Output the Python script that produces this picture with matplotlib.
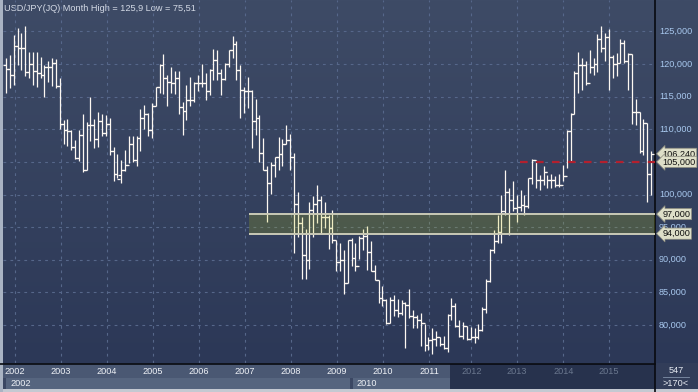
import numpy as np
import matplotlib
matplotlib.use("Agg")
import matplotlib.pyplot as plt
from matplotlib.patches import Rectangle
from matplotlib.transforms import blended_transform_factory

plt.rcParams['font.family'] = ['Liberation Sans', 'DejaVu Sans']
plt.rcParams['lines.scale_dashes'] = False

# ---------------- data (monthly OHLC) ----------------
highs = [
    120.9, 121.4, 124.4, 125.6, 124.7, 125.8, 121.9, 121.9, 121.9, 121.1, 119.9, 120.4, 120.9, 120.8, 117.9,
    111.4, 111.6, 109.9, 108.4, 109.9, 112.3, 111.1, 115.0, 111.6, 112.7, 112.3, 112.2, 111.7, 107.3, 106.2,
    105.3, 106.8, 108.9, 109.0, 108.9, 113.1, 113.7, 112.5, 114.0, 116.5, 120.0, 121.5, 118.3,
    119.5, 119.0, 119.0, 114.2, 116.8, 118.0, 117.3, 118.3, 120.0, 118.6, 119.2, 122.3, 122.1, 119.2, 120.1,
    122.1, 124.3, 123.6, 119.9, 116.5, 118.0, 116.0, 114.7, 112.2, 108.6, 104.3, 105.0, 105.7, 108.8, 108.5,
    110.7, 109.3, 106.3, 100.4, 96.6, 94.7, 98.9, 99.8, 101.5, 99.8, 98.9, 96.8,
    97.7, 93.1, 92.5, 91.5, 93.1, 93.3, 92.5, 93.6, 94.7, 95.1, 92.8, 89.2, 86.9, 86.0, 83.9,
    84.3, 84.6, 83.9, 83.8, 83.5, 85.5, 82.3, 81.5, 81.8, 80.2, 78.1, 79.5, 79.0, 78.2, 78.3,
    81.7, 84.2, 83.4, 80.8, 80.5, 79.8, 79.7, 79.5, 80.2, 82.7, 87.0, 91.6, 94.6,
    96.9, 100.0, 103.8, 101.0, 102.0, 99.9, 100.7, 99.9, 102.6, 105.4, 105.3, 103.0, 104.3, 103.0, 103.2,
    102.9, 103.1, 104.5, 109.9, 112.5, 118.9, 121.9, 120.9, 120.5, 122.2, 121.0, 124.6, 125.9, 124.7, 125.4,
    121.4, 121.7, 123.8, 123.7, 121.7, 121.5, 114.6, 112.7, 111.6, 110.9, 106.6,
]
lows = [
    115.5, 116.4, 116.8, 119.9, 119.1, 118.2, 117.8, 116.8, 116.5, 117.8, 115.0, 117.3, 116.7, 116.3, 110.1,
    107.8, 107.5, 106.8, 105.5, 105.1, 103.4, 103.8, 108.2, 107.1, 107.3, 109.0, 108.9, 106.0, 102.1, 102.6,
    101.7, 103.6, 104.8, 105.0, 104.3, 106.6, 110.1, 108.9, 108.7, 113.5, 115.5, 115.4, 113.5,
    115.6, 115.4, 112.4, 109.1, 111.4, 113.5, 114.2, 115.8, 116.5, 114.5, 115.3, 117.6, 117.6, 115.2, 117.6,
    119.6, 120.9, 117.6, 111.7, 112.5, 113.2, 107.2, 109.1, 105.0, 103.7, 95.8, 100.1, 102.7, 103.7, 104.3,
    107.7, 103.7, 91.0, 93.5, 87.1, 87.1, 88.5, 93.5, 95.7, 94.0, 94.8, 91.7,
    92.5, 88.2, 88.2, 84.8, 86.4, 89.0, 88.2, 90.1, 91.5, 88.4, 88.2, 86.9, 83.4, 82.9, 80.2,
    80.3, 81.3, 81.2, 81.5, 76.4, 81.0, 79.5, 79.6, 76.8, 76.0, 76.2, 75.51, 76.7, 76.7, 76.3,
    75.9, 80.8, 79.7, 78.2, 77.8, 77.7, 77.9, 77.2, 77.8, 79.1, 81.8, 86.6, 91.0,
    92.5, 92.5, 96.9, 93.8, 97.4, 95.8, 97.4, 96.9, 97.9, 101.6, 101.0, 100.7, 101.5, 101.0, 101.0,
    101.1, 101.1, 102.0, 104.1, 105.0, 112.3, 115.5, 116.0, 116.8, 118.6, 118.4, 118.8, 121.9, 120.4, 116.0,
    117.8, 118.1, 120.1, 120.1, 116.0, 110.8, 110.7, 106.3, 106.1, 98.9, 99.9,
]
opens = [
    119.9, 119.3, 118.4, 122.8, 122.5, 122.5, 118.8, 120.0, 118.9, 118.6, 118.4, 119.5, 119.6, 120.1, 116.6,
    110.8, 109.9, 109.7, 107.3, 105.6, 109.1, 103.8, 110.7, 110.7, 108.5, 111.3, 109.5, 110.8, 106.7, 103.1,
    103.0, 103.8, 104.5, 107.8, 105.3, 108.7, 111.8, 112.3, 109.9, 113.6, 116.5, 119.9, 117.9,
    117.2, 117.1, 117.8, 113.4, 112.8, 114.5, 114.5, 117.1, 117.1, 117.1, 115.9, 119.1, 120.7, 118.7, 117.7,
    120.0, 122.1, 123.1, 119.1, 116.0, 115.9, 115.9, 111.2, 111.8, 106.4, 103.7, 101.8, 104.5, 105.7, 106.2,
    107.7, 108.3, 105.8, 98.6, 95.7, 90.7, 90.0, 97.6, 98.5, 99.2, 96.6, 96.6,
    94.8, 93.0, 89.7, 90.0, 86.4, 93.0, 90.2, 89.0, 93.4, 93.6, 91.2, 88.3, 86.9, 84.2, 83.8,
    80.3, 83.8, 82.3, 81.8, 83.3, 83.1, 81.3, 81.2, 80.8, 80.3, 76.9, 77.7, 77.9, 78.2, 77.1,
    76.4, 81.5, 82.9, 79.8, 78.3, 79.8, 77.9, 78.2, 78.1, 79.2, 82.5, 86.8, 91.5,
    92.8, 94.3, 97.4, 100.4, 99.1, 97.9, 98.1, 98.4, 98.3, 102.5, 105.3, 102.2, 102.2, 103.5, 102.2,
    102.2, 101.5, 101.4, 102.9, 109.7, 112.3, 118.6, 119.8, 119.9, 117.1, 119.6, 120.0, 123.9, 122.5, 124.1,
    121.1, 120.0, 120.1, 123.2, 120.4, 121.5, 112.7, 112.7, 106.7, 110.9, 103.2,
]
closes = [
    119.3, 118.4, 122.8, 122.5, 122.5, 118.8, 120.0, 118.9, 118.6, 118.4, 119.5, 119.6, 120.1, 116.6, 110.8,
    109.9, 109.7, 107.3, 105.6, 109.1, 103.8, 110.7, 110.7, 108.5, 111.3, 109.5, 110.8, 106.7, 103.1, 102.4,
    103.8, 104.5, 107.8, 105.3, 108.7, 111.8, 112.3, 109.9, 113.6, 116.5, 119.9, 117.9, 117.2,
    117.1, 117.8, 113.4, 112.8, 114.5, 114.5, 117.1, 117.1, 117.1, 115.9, 119.1, 120.7, 118.7, 117.7, 120.0,
    122.1, 123.1, 119.1, 116.0, 115.9, 115.9, 111.2, 111.8, 106.4, 103.7, 101.8, 104.5, 105.7, 106.2, 107.7,
    108.3, 105.8, 98.6, 95.7, 90.7, 90.0, 97.6, 98.5, 99.2, 96.6, 96.6, 94.8,
    93.0, 89.7, 90.0, 86.4, 93.0, 90.2, 89.0, 93.4, 93.6, 91.2, 88.3, 86.9, 84.2, 83.8, 80.3,
    83.8, 82.3, 81.8, 83.3, 83.1, 81.3, 81.2, 80.8, 80.3, 76.9, 77.7, 77.9, 78.2, 77.1, 76.4,
    81.5, 82.9, 79.8, 78.3, 79.8, 77.9, 78.2, 78.1, 79.2, 82.5, 86.8, 91.5, 92.8,
    94.3, 97.4, 100.4, 99.1, 97.9, 98.1, 98.4, 98.3, 102.5, 105.3, 102.2, 102.2, 103.5, 102.2, 102.2,
    101.5, 101.4, 102.9, 109.7, 112.3, 118.6, 119.8, 119.9, 117.1, 119.6, 120.0, 123.9, 122.5, 124.1, 121.1,
    120.0, 120.1, 123.2, 120.4, 121.5, 112.7, 112.7, 106.7, 110.9, 103.2, 106.24,
]

year_labels = ['2002', '2003', '2004', '2005', '2006', '2007', '2008', '2009',
               '2010', '2011', '2012', '2013', '2014', '2015']
year_pos = [2.3, 14.3, 26.3, 38.3, 50.3, 62.2, 74.2, 86.2, 98.2, 110.2, 121.2, 133.1, 145.1, 157.0]
period_labels = ['2002', '2010']
price_ticks = [80, 85, 90, 95, 100, 105, 110, 115, 120, 125]
band_low, band_high = 94.0, 97.0
band_start = 63.4
resistance = 105.0
res_start = 133.8
last_price = 106.24
title = "USD/JPY(JQ) Month High = 125,9 Low = 75,51"
total_bars_label = "547"
visible_label = ">170<"

# ---------------- figure ----------------
W, H = 698, 392
fig = plt.figure(figsize=(W / 100, H / 100), dpi=100)
bg = fig.add_axes([0, 0, 1, 1])
bg.set_xlim(0, W)
bg.set_ylim(H, 0)
bg.axis('off')

# gradient background for plot + price axis
top = np.array([62, 75, 102]) / 255
bot = np.array([44, 56, 87]) / 255
t = np.linspace(0, 1, 256)[:, None, None]
grad = top * (1 - t) + bot * t
bg.imshow(grad, extent=(0, W, 363, 0), origin='upper', aspect='auto', zorder=0)

# bottom panel
bg.add_patch(Rectangle((0, 363), 655, 29, facecolor='#3b4763', edgecolor='none', zorder=1))
bg.add_patch(Rectangle((3, 364), 447, 14, facecolor='#4a5873', edgecolor='none', zorder=1))
bg.add_patch(Rectangle((450, 364), 205, 28, facecolor='#27324d', edgecolor='none', zorder=1))
bg.add_patch(Rectangle((6, 378), 344, 11, facecolor='#56657f', edgecolor='none', zorder=1))
bg.add_patch(Rectangle((353, 378), 97, 11, facecolor='#56657f', edgecolor='none', zorder=1))
bg.add_patch(Rectangle((655, 363), 43, 29, facecolor='#323d59', edgecolor='none', zorder=1))
# outer frame
bg.add_patch(Rectangle((0, 389), W, 3, facecolor='#c4c9d2', edgecolor='none', zorder=2))
bg.add_patch(Rectangle((0, 0), 2.5, 392, facecolor='#a9b3c3', edgecolor='none', zorder=2))
# separators
bg.plot([655, 655], [0, 392], color='#080a10', lw=1.2, zorder=3)
bg.plot([0, 655], [363.5, 363.5], color='#080a10', lw=1.2, zorder=3)

# main axes
ax = fig.add_axes([3 / W, 29 / H, 652 / W, 363 / H])
ax.patch.set_alpha(0)
x0 = -0.78
x1 = 169.0
ax.set_xlim(x0, x1)
ax.set_ylim(74.16, 129.83)
for s in ax.spines.values():
    s.set_visible(False)
ax.set_xticks([])
ax.set_yticks([])

grid_kw = dict(color='#56678a', lw=0.8, linestyle=(0, (2, 3)), zorder=1)
for v in price_ticks:
    ax.axhline(v, **grid_kw)
for p in year_pos:
    ax.axvline(p, **grid_kw)

idx = np.arange(len(highs))
bar_col = '#fdf8f2'
ax.vlines(idx, lows, highs, color=bar_col, lw=0.9, zorder=3)
ax.hlines(opens, idx - 0.75, idx, color=bar_col, lw=0.9, zorder=3)
ax.hlines(closes, idx, idx + 0.75, color=bar_col, lw=0.9, zorder=3)

# support band
ax.add_patch(Rectangle((band_start, band_low), x1 - band_start, band_high - band_low,
                       facecolor=(185 / 255, 195 / 255, 10 / 255), alpha=0.2,
                       edgecolor='none', zorder=5))
ax.hlines([band_low, band_high], band_start, x1, color='#c9c9b6', lw=1.4, zorder=6)

# resistance dashed line
ax.hlines(resistance, res_start, x1, color='#b3202e', lw=1.6,
          linestyles=[(0, (5.5, 6))], zorder=4)

# title
bg.text(4, 8, title, color='#d4dae6', fontsize=6.6, va='center', ha='left', zorder=10)

# price axis labels
trans = blended_transform_factory(bg.transData, ax.transData)
for v in price_ticks:
    bg.text(659, v, f"{v},000", transform=trans, color='#a8c8ee', fontsize=6.6,
            va='center', ha='left', zorder=10)

def fmt(v):
    return f"{v:.3f}".replace('.', ',')

box_kw = dict(boxstyle='larrow,pad=0.12', fc='#dedfc8', ec='#8c8c7e', lw=0.5)
for v in [last_price, resistance, band_high, band_low]:
    bg.text(662.5, v, fmt(v), transform=trans, color='#101010', fontsize=6.6,
            va='center', ha='left', bbox=box_kw, zorder=12)

# year labels
tx = blended_transform_factory(ax.transData, bg.transData)
for lab, p in zip(year_labels, year_pos):
    xp = 3 + (p - x0) / (x1 - x0) * 652
    col = '#eef1f6' if xp < 450 else '#6a778e'
    bg.text(xp, 371.5, lab, color=col, fontsize=6.6, va='center', ha='center', zorder=10)
bg.text(10, 383.5, period_labels[0], color='#eef1f6', fontsize=6.6, va='center', ha='left', zorder=10)
bg.text(356, 383.5, period_labels[1], color='#eef1f6', fontsize=6.6, va='center', ha='left', zorder=10)

# bottom-right counters
bg.text(676, 370.5, total_bars_label, color='#e6eaf2', fontsize=6.6, va='center', ha='center', zorder=10)
bg.plot([663, 689], [377, 377], color='#8090a8', lw=0.6, zorder=10)
bg.text(676, 383.5, visible_label, color='#e6eaf2', fontsize=6.6, va='center', ha='center', zorder=10)

fig.savefig('out.png', dpi=100)
